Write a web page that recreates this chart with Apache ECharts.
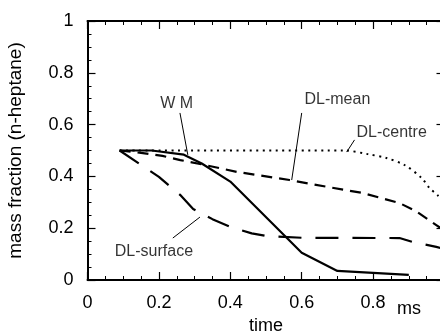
<!DOCTYPE html>
<html>
<head>
<meta charset="utf-8">
<script src="https://cdn.jsdelivr.net/npm/echarts@6/dist/echarts.min.js"></script>
<style>html,body{margin:0;padding:0;background:#fff;}#c{width:440px;height:335px;}</style>
</head>
<body>
<div id="c"></div>
<script>
// ---- data (time in ms, mass fraction of n-heptane) ----
var wmX = [0.09, 0.18, 0.27, 0.32, 0.40, 0.60, 0.70, 0.90];
var wmY = [0.50, 0.50, 0.484, 0.45, 0.38, 0.105, 0.035, 0.02];

var centreX = [0.09, 0.72, 0.785, 0.837, 0.888, 0.936, 0.958, 0.98, 1.0];
var centreY = [0.50, 0.50, 0.486, 0.471, 0.444, 0.394, 0.355, 0.328, 0.30];

var meanX = [0.09, 0.155, 0.21, 0.26, 0.315, 0.42, 0.566, 0.67, 0.77, 0.874, 0.92, 0.977, 1.0];
var meanY = [0.50, 0.49, 0.479, 0.463, 0.448, 0.417, 0.386, 0.36, 0.336, 0.297, 0.266, 0.212, 0.19];

var surfX = [0.09, 0.155, 0.20, 0.26, 0.296, 0.35, 0.40, 0.46, 0.50, 0.60, 0.874, 0.91, 0.977, 1.0];
var surfY = [0.50, 0.44, 0.398, 0.328, 0.274, 0.235, 0.205, 0.18, 0.17, 0.163, 0.162, 0.147, 0.128, 0.12];

// annotation labels: text, label position, leader line from -> to (data coords)
var annText = ['W M', 'DL-mean', 'DL-centre', 'DL-surface'];
var annPos = [[0.250, 0.683], [0.70, 0.695], [0.852, 0.568], [0.186, 0.108]];
var annFrom = [[0.259, 0.645], [0.600, 0.645], [0.748, 0.541], [0.239, 0.162]];
var annTo = [[0.281, 0.483], [0.572, 0.386], [0.726, 0.494], [0.315, 0.243]];

var xTicks = [0, 0.2, 0.4, 0.6, 0.8];
var yTicks = [0, 0.2, 0.4, 0.6, 0.8, 1];

function zip(xs, ys) { return xs.map(function (x, i) { return [x, ys[i]]; }); }

var FONT = '"Liberation Sans", Arial, sans-serif';
var INK = '#000';

function axisCommon(extra) {
  var a = {
    type: 'value', min: 0, max: 1, interval: 0.2,
    axisLine: { show: true, onZero: false, lineStyle: { color: INK, width: 2 } },
    axisTick: { show: true, inside: true, length: 8, lineStyle: { color: INK, width: 1.2 } },
    minorTick: { show: true, splitNumber: 4, length: 4, lineStyle: { color: INK, width: 1 } },
    splitLine: { show: false },
    axisLabel: { show: false }
  };
  for (var k in extra) a[k] = extra[k];
  return a;
}

var chart = echarts.init(document.getElementById('c'), null, { renderer: 'canvas' });

var lineBase = { type: 'line', showSymbol: false, symbol: 'none', animation: false, z: 3 };

var annLines = annFrom.map(function (f, i) {
  return [{ coord: f }, { coord: annTo[i] }];
});

chart.setOption({
  animation: false,
  backgroundColor: '#fff',
  grid: { left: 87.5, top: 21, width: 357, height: 259, containLabel: false, outerBoundsMode: 'none' },
  xAxis: [
    axisCommon({
      position: 'bottom',
      name: 'time', nameLocation: 'middle', nameGap: 33,
      nameTextStyle: { fontFamily: FONT, fontSize: 18, color: INK },
      axisLabel: {
        show: true, margin: 14, fontFamily: FONT, fontSize: 18, color: INK,
        formatter: function (v) { return xTicks.indexOf(v) >= 0 ? String(v) : ''; }
      }
    }),
    axisCommon({ position: 'top' })
  ],
  yAxis: [
    axisCommon({
      position: 'left',
      name: 'mass fraction (n-heptane)', nameLocation: 'middle', nameGap: 62,
      nameTextStyle: { fontFamily: FONT, fontSize: 19, color: INK },
      axisLabel: {
        show: true, margin: 14, fontFamily: FONT, fontSize: 18, color: INK,
        formatter: function (v) { return yTicks.indexOf(v) >= 0 ? String(v) : ''; }
      }
    }),
    axisCommon({ position: 'right' })
  ],
  graphic: [{
    type: 'text', left: 397, top: 300,
    style: { text: 'ms', font: '18px ' + FONT, fill: INK }
  }],
  series: [
    Object.assign({}, lineBase, {
      name: 'WM', data: zip(wmX, wmY),
      lineStyle: { color: INK, width: 2.2, type: 'solid' }
    }),
    Object.assign({}, lineBase, {
      name: 'DL-centre', data: zip(centreX, centreY), smooth: 0.3,
      lineStyle: { color: INK, width: 2, type: [2, 4.5] }
    }),
    Object.assign({}, lineBase, {
      name: 'DL-mean', data: zip(meanX, meanY),
      lineStyle: { color: INK, width: 2.2, type: [11, 7] }
    }),
    Object.assign({}, lineBase, {
      name: 'DL-surface', data: zip(surfX, surfY),
      lineStyle: { color: INK, width: 2.2, type: [23, 14] }
    }),
    {
      type: 'scatter', name: 'labels', symbolSize: 0, animation: false, clip: false, z: 5,
      data: annPos.map(function (p, i) { return { value: p, name: annText[i] }; }),
      label: {
        show: true, position: 'inside', formatter: '{b}',
        fontFamily: FONT, fontSize: 16, color: INK
      },
      markLine: {
        silent: true, symbol: ['none', 'none'], animation: false,
        label: { show: false },
        lineStyle: { color: INK, width: 1, type: 'solid' },
        data: annLines
      }
    }
  ]
});
</script>
</body>
</html>
